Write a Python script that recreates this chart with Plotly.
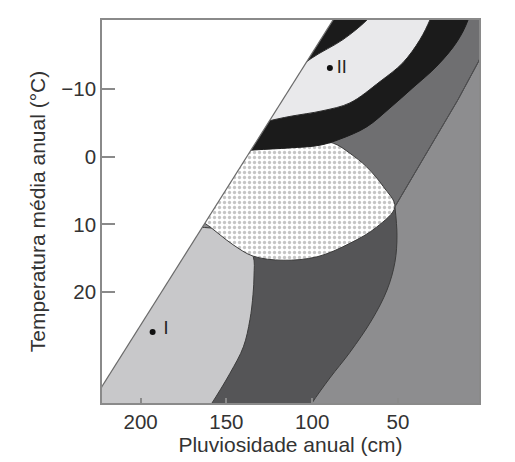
import plotly.graph_objects as go

# ---- axes ----
X_TICKS = [200, 150, 100, 50]
Y_TICKS = [-10, 0, 10, 20]
X_RANGE = [222.5, 2.8]
Y_RANGE = [36.4, -20.2]
X_TITLE = "Pluviosidade anual (cm)"
Y_TITLE = "Temperatura média anual (°C)"

# ---- region boundaries (rainfall cm, temperature °C) ----
DIAG_X = [232.6, 80.9]
DIAG_Y = [38.0, -23.0]
WHITE_X = [232.6, 80.9, 240.0, 240.0]
WHITE_Y = [38.0, -23.0, -23.0, 38.0]

MID_X = [51.8, 15.1, 3.2, -6.5, -6.5, 229.5, 229.5, 70.0]
MID_Y = [7.4, -8.4, -14.0, -19.5, -25.0, -25.0, 9.3, 8.5]
RLINE_X = [51.8, 15.1, 3.2, -6.5]
RLINE_Y = [7.4, -8.4, -14.0, -19.5]

DARK_X = [51.8, 50.6, 51.8, 56.4, 65.2, 78.0, 89.7, 100.1, 104.2, 120.0, 140.0, 160.0, 165.0, 140.0, 107.1, 70.0]
DARK_Y = [7.4, 11.6, 15.6, 19.7, 24.1, 28.9, 32.7, 36.4, 38.2, 40.0, 40.0, 40.0, 20.0, 12.0, 10.8, 8.5]

LIGHT_X = [161.9, 158.4, 147.9, 140.1, 136.3, 134.5, 133.9, 134.4, 142.1, 171.2, 229.5, 229.5, 165.0]
LIGHT_Y = [37.7, 36.4, 32.0, 28.1, 24.1, 20.4, 17.5, 14.7, 11.6, 10.3, 10.3, 40.0, 40.0]

DOT_X = [171.2, 162.2, 146.2, 134.4, 117.0, 97.2, 78.0, 62.4, 51.8, 58.6, 68.3, 78.0, 87.7, 104.2, 124.6, 142.1, 159.6]
DOT_Y = [8.6, 9.9, 13.0, 14.7, 15.3, 14.8, 12.8, 10.4, 7.4, 4.4, 1.5, -0.5, -2.0, -2.6, -2.5, -1.3, 2.7]

BLACK_X = [147.9, 133.4, 113.0, 95.5, 83.8, 68.3, 54.7, 41.3, 27.3, 15.6, 9.2, 5.5, 60.0, 110.0, 150.0]
BLACK_Y = [-0.7, -1.0, -1.3, -1.7, -2.6, -4.4, -7.2, -10.2, -13.4, -17.0, -20.2, -24.0, -25.0, -25.0, -10.0]

II_X = [133.4, 125.0, 113.0, 93.7, 78.0, 60.5, 47.1, 37.2, 31.4, 27.9, 48.9, 60.5, 68.1, 82.1, 100.7, 118.8, 131.6]
II_Y = [-4.7, -5.3, -5.95, -6.8, -7.95, -11.1, -13.9, -17.3, -20.2, -22.4, -23.9, -22.4, -20.2, -17.3, -14.5, -10.8, -6.6]

# ---- labelled points ----
PT_X = [193.0, 89.7]
PT_Y = [25.9, -13.1]
LBL_TEXT = ["I", "II"]
LBL_X = [185.2, 82.8]
LBL_Y = [25.6, -13.1]

FONT = "Liberation Sans, Arial, sans-serif"
EDGE = "#3c3c3c"

fig = go.Figure()

def region(xs, ys, color, spline=True, edge=EDGE, width=1.0, pattern=None):
    kw = dict(x=xs, y=ys, mode="lines", fill="toself", fillcolor=color,
              line=dict(color=edge, width=width, shape="spline" if spline else "linear"),
              hoverinfo="skip", showlegend=False)
    if pattern is not None:
        kw["fillpattern"] = pattern
    fig.add_trace(go.Scatter(**kw))

region(MID_X, MID_Y, "#6f6f71", spline=False)
region(DARK_X, DARK_Y, "#555557")
region(LIGHT_X, LIGHT_Y, "#c8c8ca")
region(DOT_X, DOT_Y, "white",
       pattern=dict(shape=".", bgcolor="white", fgcolor="#8c8c8c", size=5, solidity=0.35))
region(BLACK_X, BLACK_Y, "#1b1b1b", edge="#1b1b1b")
region(II_X, II_Y, "#e9e9eb", edge="#2a2a2a")
region(WHITE_X, WHITE_Y, "white", spline=False, edge="rgba(0,0,0,0)", width=0)

fig.add_trace(go.Scatter(x=RLINE_X, y=RLINE_Y, mode="lines",
                         line=dict(color="#505052", width=1), hoverinfo="skip", showlegend=False))
fig.add_trace(go.Scatter(x=DIAG_X, y=DIAG_Y, mode="lines",
                         line=dict(color="#6a6a6a", width=1.2), hoverinfo="skip", showlegend=False))

fig.add_trace(go.Scatter(x=PT_X, y=PT_Y, mode="markers",
                         marker=dict(color="#111", size=6), hoverinfo="skip", showlegend=False))
fig.add_trace(go.Scatter(x=LBL_X, y=LBL_Y, mode="text", text=LBL_TEXT,
                         textfont=dict(family=FONT, size=18, color="#222"),
                         hoverinfo="skip", showlegend=False))

axis_common = dict(showgrid=False, zeroline=False, showline=True, linecolor="#8a8a8a",
                   linewidth=1.5, mirror=True, tickcolor="#8a8a8a", tickwidth=1.5,
                   tickfont=dict(family=FONT, size=20.5, color="#333"), automargin=False)

fig.update_layout(
    width=507, height=454,
    margin=dict(l=94, r=36, t=12, b=59),
    paper_bgcolor="white", plot_bgcolor="#8d8d8f",
    xaxis=dict(range=X_RANGE, tickvals=X_TICKS, ticks="inside", ticklen=5,
               title=dict(text=X_TITLE, font=dict(family=FONT, size=21, color="#333"), standoff=2),
               **axis_common),
    yaxis=dict(range=Y_RANGE, tickvals=Y_TICKS, ticks="inside", ticklen=13,
               title=dict(text=Y_TITLE, font=dict(family=FONT, size=21, color="#333"), standoff=10),
               **axis_common),
)

fig.write_html("out.html")
